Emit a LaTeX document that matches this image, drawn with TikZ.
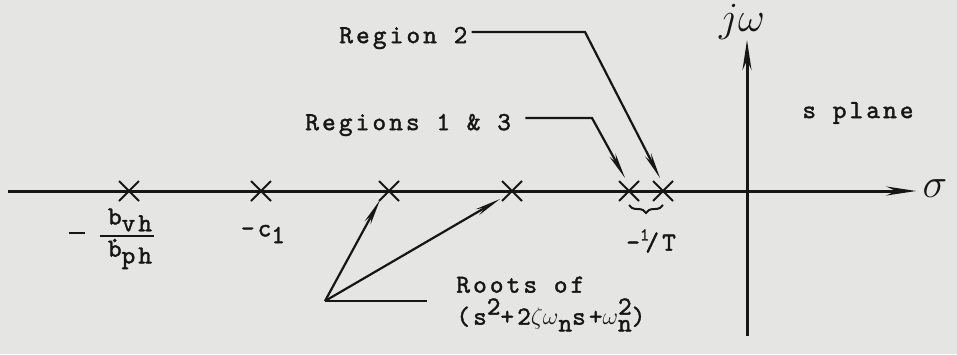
\documentclass[tikz,border=0pt]{standalone}
\usepackage{fontspec}
\setmonofont{lmmono10-regular.otf}[LetterSpace=12, FakeBold=1.6]
\usepackage{tikz}
\usetikzlibrary{arrows.meta, shapes.misc, decorations.pathreplacing}
\definecolor{paper}{RGB}{229,229,227}
\definecolor{ink}{RGB}{22,22,22}
\newcommand{\subtw}[1]{\raisebox{-0.6ex}{#1}}
\newcommand{\suptw}[1]{\raisebox{0.9ex}{#1}}
\newcommand{\longdash}{\rule[0.55ex]{8.5pt}{1.3pt}}
\tikzset{
    axisline/.style={ink, line width=1.5pt, -{Stealth[length=15pt, width=4.5pt]}},
    ptr/.style={ink, line width=1.1pt, -{Stealth[length=13pt, width=3.4pt]}},
    lead/.style={ink, line width=1.1pt},
    root/.style={cross out, draw=ink, line width=1pt, minimum size=9pt, inner sep=0pt},
    lbl/.style={font=\fontsize{13}{16}\selectfont\ttfamily, text=ink, inner sep=0pt},
    hand/.style={font=\fontsize{22}{24}\selectfont, text=ink, inner sep=0pt},
    brace/.style={ink, line width=1pt, decorate, decoration={brace, mirror, amplitude=4pt}}
}

\begin{document}
\begin{tikzpicture}[x=0.5pt, y=-0.5pt]
    \fill[paper] (0,0) rectangle (957,354);

    % axes
    \node[hand] (sigma) at (935,189) {$\sigma$};
    \node[hand] (jw) at (742,22) {$j\omega$};
    \coordinate (sl) at (8,191);
    \coordinate (wb) at (747,336);
    \coordinate (wt) at (747,40);
    \draw[axisline] (sl) -- ([xshift=-3pt]sl -| sigma.west);
    \draw[axisline] (wb) -- (wt);

    % poles
    \foreach \x [count=\i] in {129,261,389,512,629,663}
        \node[root] (p\i) at (\x,191) {};

    % pole labels
    \node[lbl] (bminus) at (77,236) {\longdash};
    \node[lbl] (bnum) at (130,220) {b\subtw{vh}};
    \node[lbl] (bden) at (130,254) {b\llap{\raisebox{1.3ex}{.}}\subtw{ph}};
    \draw[ink, line width=1.2pt] (100,236) -- (154,236);
    \node[lbl] (cone) at (263,234) {-c\subtw{1}};
    \draw[brace] ([yshift=-2pt]p5.south) -- ([yshift=-2pt]p6.south);
    \node[lbl] (tinv) at (651,241) {-\suptw{\small 1}\kern-2pt/T};
    \node[lbl, anchor=west] (plane) at (802,113) {s plane};

    % region leaders
    \node[lbl, anchor=west] (rtwo) at (339,38) {Region 2};
    \node[lbl, anchor=west] (rone) at (305,125) {Regions 1 \& 3};
    \coordinate (rtk) at (585,32);
    \coordinate (rok) at (592,118);
    \draw[ptr] ([xshift=2pt]rtwo.east |- rtk) -- (rtk) -- ([shift={(-3,-13)}]p6.center);
    \draw[ptr] ([xshift=7pt]rone.east |- rok) -- (rok) -- ([shift={(-4,-13)}]p5.center);

    % roots
    \node[lbl, anchor=west, align=left] (roots) at (456,304)
        {Roots of\\(s\suptw{2}+2$\zeta\omega$\subtw{n}s+$\omega$\rlap{\suptw{2}}\subtw{n})};
    \coordinate (rk) at (325,301);
    \draw[lead] (rk) -- (427,301);
    \draw[ptr] (rk) -- ([shift={(-9,9)}]p3.center);
    \draw[ptr] (rk) -- ([shift={(-12,8)}]p4.center);
\end{tikzpicture}
\end{document}
